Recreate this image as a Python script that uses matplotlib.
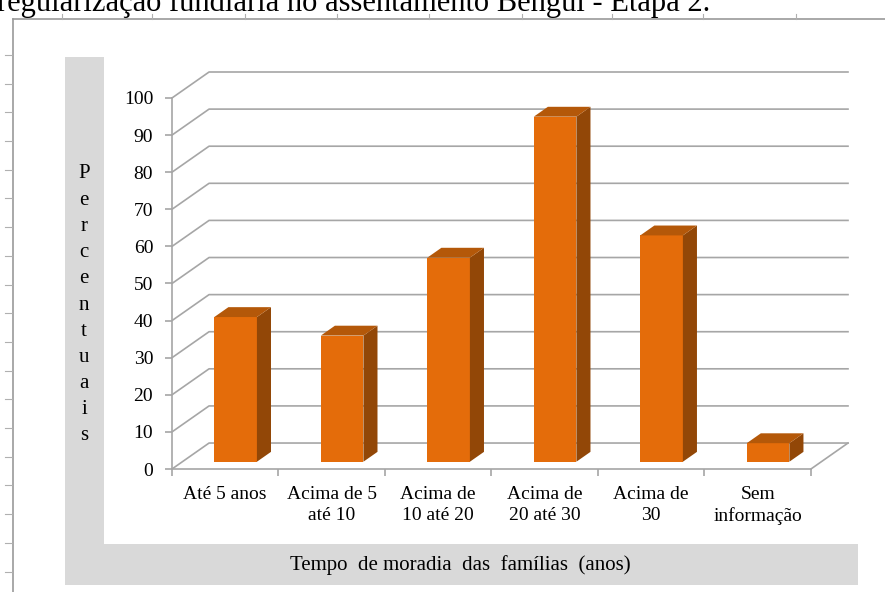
import matplotlib
matplotlib.use("Agg")
import matplotlib.pyplot as plt
from matplotlib.patches import Rectangle
from matplotlib.lines import Line2D

# data
categorias = ["Até 5 anos", "Acima de 5\naté 10", "Acima de\n10 até 20",
              "Acima de\n20 até 30", "Acima de\n30", "Sem\ninformação"]
percentuais = [39, 34, 55, 93, 61, 5]
y_ticks = list(range(0, 101, 10))

W, H = 885, 592
FONT = "Liberation Serif"
GRID = "#A6A6A6"
C_FRONT, C_TOP, C_SIDE = "#E46C0A", "#B45809", "#924707"

# oblique depth of the 3D box (in data units)
DX, DY = 0.348, 7.0
D0, D1 = 0.28, 0.66          # bar depth range (fraction of box depth)
HALF = 0.20                  # half bar width


def fx(px):
    return px / W


def fy(py):
    return 1 - py / H


fig = plt.figure(figsize=(W / 100, H / 100), dpi=100)

# page decorations: cut title line, frame, ruler marks
fig.text(fx(-3), fy(11), "regularização fundiária no assentamento Bengui - Etapa 2.",
         fontsize=22, family=FONT, va="baseline", ha="left")
fig.add_artist(Line2D([fx(13), fx(13)], [fy(19), fy(592)], color="#9A9A9A", lw=1.2))
fig.add_artist(Line2D([fx(13), fx(885)], [fy(19), fy(19)], color="#9A9A9A", lw=1.2))
y = 55.0
while y < 592:
    fig.add_artist(Line2D([fx(5), fx(12)], [fy(y), fy(y)], color="#B0B0B0", lw=0.8))
    y += 28.7
for x in [62, 152, 245, 337, 429, 522, 612, 703, 796]:
    fig.add_artist(Line2D([fx(x), fx(x)], [fy(14), fy(19)], color="#B0B0B0", lw=0.8))

# gray title panels
fig.add_artist(Rectangle((fx(65), fy(585)), fx(104 - 65), (585 - 57) / H,
                         facecolor="#D9D9D9", edgecolor="none"))
fig.add_artist(Rectangle((fx(65), fy(585)), fx(858 - 65), (585 - 544) / H,
                         facecolor="#D9D9D9", edgecolor="none"))
for i, ch in enumerate("Percentuais"):
    fig.text(fx(84), fy(174 + i * 26.2), ch, fontsize=15, family=FONT,
             ha="center", va="center")
fig.text(fx(460), fy(565), "Tempo  de moradia  das  famílias  (anos)", fontsize=15,
         family=FONT, ha="center", va="center")

# plot area
n = len(categorias)
ax = fig.add_axes([fx(172), fy(469), fx(848 - 172), (469 - 72) / H])
ax.set_xlim(-0.5, n - 0.5 + DX)
ax.set_ylim(0, 100 + DY)
ax.patch.set_alpha(0)
for s in ["top", "right"]:
    ax.spines[s].set_visible(False)
ax.spines["left"].set_bounds(0, 100)
ax.spines["bottom"].set_bounds(-0.5, n - 0.5)
for s in ["left", "bottom"]:
    ax.spines[s].set_color(GRID)
    ax.spines[s].set_linewidth(1.2)

ax.set_yticks(y_ticks)
ax.set_yticklabels([str(t) for t in y_ticks], fontsize=14, family=FONT)
ax.tick_params(axis="y", length=5, width=1.2, color=GRID, pad=8.5)
ax.set_xticks([i - 0.5 for i in range(n + 1)])
ax.set_xticklabels([])
ax.tick_params(axis="x", which="major", length=5, width=1.2, color=GRID)
ax.set_xticks(range(n), minor=True)
ax.set_xticklabels(categorias, minor=True, fontsize=14, family=FONT, linespacing=1.35)
ax.tick_params(axis="x", which="minor", length=0, pad=12)

# back wall / side wall gridlines
x_left, x_right = -0.5, n - 0.5
for v in y_ticks:
    ax.plot([x_left, x_left + DX, x_right + DX], [v, v + DY, v + DY],
            color=GRID, lw=1.2, zorder=1, clip_on=False)
ax.plot([x_right, x_right + DX], [0, DY], color=GRID, lw=1.2, zorder=1, clip_on=False)

# 3D bars
for i, v in enumerate(percentuais):
    x0 = i - HALF + D0 * DX
    x1 = i + HALF + D0 * DX
    yb = D0 * DY
    ddx = (D1 - D0) * DX
    ddy = (D1 - D0) * DY
    ax.fill([x0, x1, x1, x0], [yb, yb, yb + v, yb + v], color=C_FRONT, zorder=3, lw=0)
    ax.fill([x1, x1 + ddx, x1 + ddx, x1], [yb, yb + ddy, yb + v + ddy, yb + v],
            color=C_SIDE, zorder=3, lw=0)
    ax.fill([x0, x1, x1 + ddx, x0 + ddx], [yb + v, yb + v, yb + v + ddy, yb + v + ddy],
            color=C_TOP, zorder=3, lw=0)

fig.savefig("out.png", dpi=100)
